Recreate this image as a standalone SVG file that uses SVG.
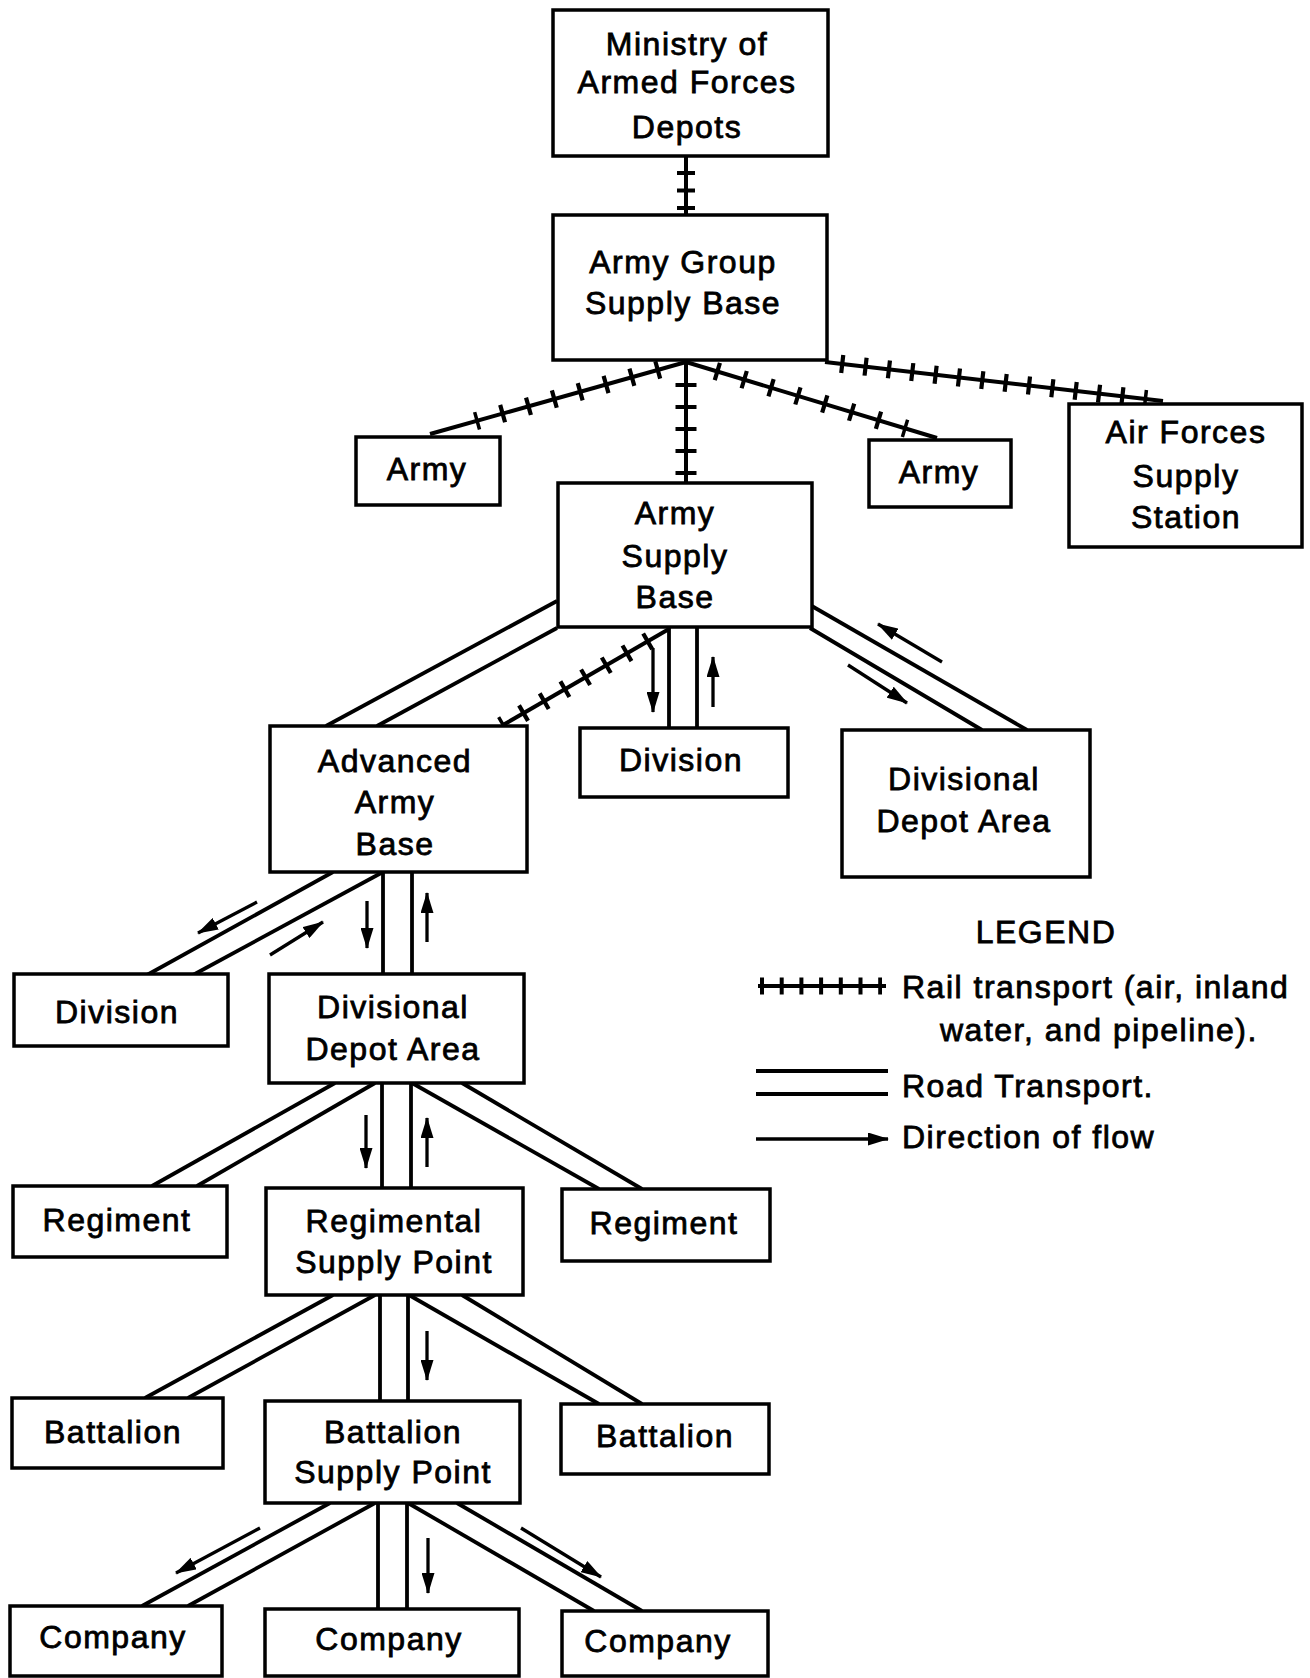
<svg xmlns="http://www.w3.org/2000/svg" width="1310" height="1678" viewBox="0 0 1310 1678">
<style>
.box{fill:#fff;stroke:#000;stroke-width:3.5}
.t{font-family:"Liberation Sans",Arial,sans-serif;font-size:32px;letter-spacing:1.5px;fill:#000;stroke:#000;stroke-width:0.8;text-anchor:middle}
.ts{font-family:"Liberation Sans",Arial,sans-serif;font-size:32px;letter-spacing:1.5px;fill:#000;stroke:#000;stroke-width:0.8}
.rail{stroke:#000;stroke-width:4;fill:none}
.ties{stroke:#000;stroke-width:18;fill:none}
.road{stroke:#000;stroke-width:3.8;fill:none}
.flow{stroke:#000;stroke-width:3.3;fill:none;marker-end:url(#ah)}
</style>
<defs>
<marker id="ah" viewBox="0 0 21 13" refX="20" refY="6.5" markerWidth="21" markerHeight="13" markerUnits="userSpaceOnUse" orient="auto"><path d="M0,0 L21,6.5 L0,13 z" fill="#000"/></marker>
</defs>
<rect width="1310" height="1678" fill="#fff"/>
<g id="connectors">
<line class="rail" x1="686" y1="156" x2="686" y2="215"/>
<line class="ties" x1="686" y1="171" x2="686" y2="210" stroke-dasharray="4 13.5"/>
<line class="rail" x1="686" y1="361" x2="686" y2="483"/>
<line class="ties" x1="686" y1="383" x2="686" y2="475" stroke-dasharray="4 18" style="stroke-width:21"/>
<line class="rail" x1="686" y1="362" x2="430" y2="434"/>
<line class="ties" x1="659.77" y1="369.38" x2="475.41" y2="421.24" stroke-dasharray="4.2 22.66"/>
<line class="rail" x1="686" y1="362" x2="937" y2="438"/>
<line class="ties" x1="715.33" y1="370.88" x2="906.64" y2="428.81" stroke-dasharray="4.2 23.86"/>
<line class="rail" x1="825" y1="362" x2="1163" y2="401"/>
<line class="ties" x1="840.15" y1="363.75" x2="1147.14" y2="399.16" stroke-dasharray="4.2 19.3"/>
<line class="rail" x1="669" y1="629" x2="503" y2="725"/>
<line class="ties" x1="649.48" y1="640.29" x2="501.65" y2="725.77" stroke-dasharray="4.2 19.7"/>
<line class="road" x1="557" y1="601" x2="326" y2="726"/>
<line class="road" x1="557" y1="628" x2="377" y2="726"/>
<line class="road" x1="669" y1="628" x2="669" y2="729"/>
<line class="road" x1="697" y1="628" x2="697" y2="729"/>
<line class="road" x1="810" y1="605" x2="1027" y2="730"/>
<line class="road" x1="810" y1="628" x2="982" y2="730"/>
<line class="road" x1="333" y1="872" x2="147" y2="975"/>
<line class="road" x1="383" y1="872" x2="193" y2="975"/>
<line class="road" x1="383" y1="872" x2="383" y2="975"/>
<line class="road" x1="412" y1="872" x2="412" y2="975"/>
<line class="road" x1="335" y1="1083" x2="152" y2="1186"/>
<line class="road" x1="375" y1="1083" x2="197" y2="1186"/>
<line class="road" x1="382" y1="1083" x2="382" y2="1188"/>
<line class="road" x1="411" y1="1083" x2="411" y2="1188"/>
<line class="road" x1="412" y1="1083" x2="599" y2="1189"/>
<line class="road" x1="462" y1="1083" x2="642" y2="1189"/>
<line class="road" x1="333" y1="1295" x2="145" y2="1398"/>
<line class="road" x1="375" y1="1295" x2="188" y2="1398"/>
<line class="road" x1="380" y1="1295" x2="380" y2="1401"/>
<line class="road" x1="408" y1="1295" x2="408" y2="1401"/>
<line class="road" x1="409" y1="1295" x2="599" y2="1404"/>
<line class="road" x1="462" y1="1295" x2="642" y2="1404"/>
<line class="road" x1="330" y1="1503" x2="142" y2="1606"/>
<line class="road" x1="375" y1="1503" x2="188" y2="1606"/>
<line class="road" x1="378" y1="1503" x2="378" y2="1609"/>
<line class="road" x1="407" y1="1503" x2="407" y2="1609"/>
<line class="road" x1="408" y1="1503" x2="594" y2="1611"/>
<line class="road" x1="457" y1="1503" x2="642" y2="1611"/>
<line class="flow" x1="653" y1="648" x2="653" y2="712"/>
<line class="flow" x1="713" y1="707" x2="713" y2="657"/>
<line class="flow" x1="942" y1="662" x2="878" y2="624"/>
<line class="flow" x1="848" y1="665" x2="907" y2="703"/>
<line class="flow" x1="257" y1="902" x2="198" y2="933"/>
<line class="flow" x1="270" y1="955" x2="323" y2="922"/>
<line class="flow" x1="367" y1="901" x2="367" y2="948"/>
<line class="flow" x1="427" y1="942" x2="427" y2="893"/>
<line class="flow" x1="366" y1="1115" x2="366" y2="1168"/>
<line class="flow" x1="427" y1="1167" x2="427" y2="1118"/>
<line class="flow" x1="427" y1="1331" x2="427" y2="1380"/>
<line class="flow" x1="260" y1="1528" x2="176" y2="1573"/>
<line class="flow" x1="428" y1="1538" x2="428" y2="1593"/>
<line class="flow" x1="521" y1="1528" x2="601" y2="1577"/>
</g>
<g id="n1"><rect class="box" x="553" y="10" width="275" height="146"/><text class="t" x="687" y="55">Ministry of</text><text class="t" x="687" y="93">Armed Forces</text><text class="t" x="687" y="138">Depots</text></g>
<g id="n2"><rect class="box" x="553" y="215" width="274" height="145"/><text class="t" x="683" y="273">Army Group</text><text class="t" x="683" y="314">Supply Base</text></g>
<g id="n3"><rect class="box" x="356" y="437" width="144" height="68"/><text class="t" x="427" y="480">Army</text></g>
<g id="n4"><rect class="box" x="869" y="440" width="142" height="67"/><text class="t" x="939" y="483">Army</text></g>
<g id="n5"><rect class="box" x="1069" y="404" width="233" height="143"/><text class="t" x="1186" y="443">Air Forces</text><text class="t" x="1186" y="487">Supply</text><text class="t" x="1186" y="528">Station</text></g>
<g id="n6"><rect class="box" x="558" y="483" width="254" height="144"/><text class="t" x="675" y="524">Army</text><text class="t" x="675" y="567">Supply</text><text class="t" x="675" y="608">Base</text></g>
<g id="n7"><rect class="box" x="270" y="726" width="257" height="146"/><text class="t" x="395" y="772">Advanced</text><text class="t" x="395" y="813">Army</text><text class="t" x="395" y="855">Base</text></g>
<g id="n8"><rect class="box" x="580" y="728" width="208" height="69"/><text class="t" x="681" y="771">Division</text></g>
<g id="n9"><rect class="box" x="842" y="730" width="248" height="147"/><text class="t" x="964" y="790">Divisional</text><text class="t" x="964" y="832">Depot Area</text></g>
<g id="n10"><rect class="box" x="14" y="974" width="214" height="72"/><text class="t" x="117" y="1023">Division</text></g>
<g id="n11"><rect class="box" x="269" y="974" width="255" height="109"/><text class="t" x="393" y="1018">Divisional</text><text class="t" x="393" y="1060">Depot Area</text></g>
<g id="n12"><rect class="box" x="13" y="1186" width="214" height="71"/><text class="t" x="117" y="1231">Regiment</text></g>
<g id="n13"><rect class="box" x="266" y="1188" width="257" height="107"/><text class="t" x="394" y="1232">Regimental</text><text class="t" x="394" y="1273">Supply Point</text></g>
<g id="n14"><rect class="box" x="562" y="1189" width="208" height="72"/><text class="t" x="664" y="1234">Regiment</text></g>
<g id="n15"><rect class="box" x="12" y="1398" width="211" height="70"/><text class="t" x="113" y="1443">Battalion</text></g>
<g id="n16"><rect class="box" x="265" y="1401" width="255" height="102"/><text class="t" x="393" y="1443">Battalion</text><text class="t" x="393" y="1483">Supply Point</text></g>
<g id="n17"><rect class="box" x="561" y="1404" width="208" height="70"/><text class="t" x="665" y="1447">Battalion</text></g>
<g id="n18"><rect class="box" x="10" y="1606" width="212" height="70"/><text class="t" x="113" y="1648">Company</text></g>
<g id="n19"><rect class="box" x="265" y="1609" width="254" height="67"/><text class="t" x="389" y="1650">Company</text></g>
<g id="n20"><rect class="box" x="562" y="1611" width="206" height="65"/><text class="t" x="658" y="1652">Company</text></g>
<g id="legend">
<text class="t" x="1046" y="943">LEGEND</text>
<line class="rail" x1="758" y1="986" x2="886" y2="986"/>
<line class="ties" x1="760" y1="986" x2="882" y2="986" stroke-dasharray="4 15.7" style="stroke-width:17"/>
<text class="ts" x="902" y="998">Rail transport (air, inland</text>
<text class="ts" x="940" y="1041">water, and pipeline).</text>
<line class="road" x1="756" y1="1071" x2="888" y2="1071"/>
<line class="road" x1="756" y1="1094" x2="888" y2="1094"/>
<text class="ts" x="902" y="1097">Road Transport.</text>
<line class="flow" x1="756" y1="1139" x2="888" y2="1139"/>
<text class="ts" x="902" y="1148">Direction of flow</text>
</g>
</svg>
